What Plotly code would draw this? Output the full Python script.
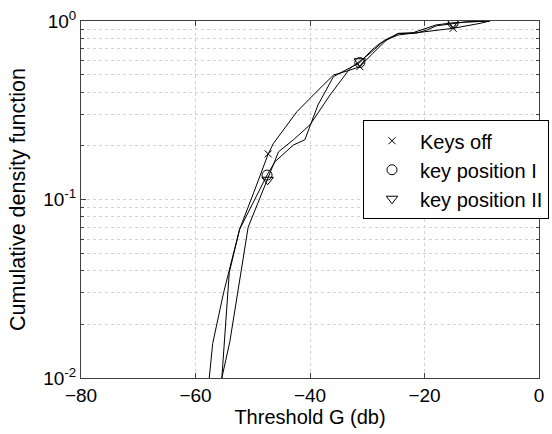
import plotly.graph_objects as go

# Threshold (dB) and cumulative density for each key configuration
keys_off_x = [-57.6, -57.0, -55.1, -52.3, -49.8, -47.3, -46.4, -42.3, -39.1, -35.9,
              -33.0, -31.3, -29.0, -26.5, -24.6, -20.8, -15.0, -10.3, -8.6]
keys_off_y = [0.010, 0.0156, 0.030, 0.068, 0.110, 0.180, 0.206, 0.310, 0.394, 0.498,
              0.531, 0.555, 0.660, 0.790, 0.835, 0.865, 0.910, 0.970, 1.0]
keys_off_marks = [5, 11, 16]

pos1_x = [-55.4, -54.1, -52.3, -47.5, -46.1, -42.9, -40.9, -40.0, -38.6, -35.9,
          -31.3, -29.2, -27.8, -26.0, -24.6, -21.4, -19.6, -17.9, -15.0, -12.6, -8.6]
pos1_y = [0.010, 0.039, 0.068, 0.137, 0.163, 0.202, 0.216, 0.256, 0.339, 0.488,
          0.585, 0.688, 0.750, 0.800, 0.853, 0.855, 0.890, 0.940, 0.972, 0.990, 1.0]
pos1_marks = [3, 10, 18]

pos2_x = [-55.4, -54.0, -50.8, -47.4, -45.5, -42.9, -40.0, -36.5, -33.0, -31.3,
          -29.5, -27.0, -25.5, -24.6, -22.0, -20.0, -18.0, -15.0, -12.0, -8.6]
pos2_y = [0.010, 0.016, 0.070, 0.129, 0.185, 0.216, 0.262, 0.385, 0.543, 0.595,
          0.660, 0.780, 0.820, 0.850, 0.860, 0.900, 0.950, 0.978, 0.990, 1.0]
pos2_marks = [3, 9, 17]

x_ticks = [-80, -60, -40, -20, 0]
y_ticks = [0.01, 0.1, 1]
y_tick_text = ["10<sup>-2</sup>", "10<sup>-1</sup>", "10<sup>0</sup>"]
y_minor = [m * d for d in (0.01, 0.1) for m in range(2, 10)]

series = [
    ("Keys off", keys_off_x, keys_off_y, keys_off_marks, "x-thin-open", 7),
    ("key position I", pos1_x, pos1_y, pos1_marks, "circle-open", 10),
    ("key position II", pos2_x, pos2_y, pos2_marks, "triangle-down-open", 10),
]

fig = go.Figure()
for name, xs, ys, marks, symbol, size in series:
    fig.add_trace(go.Scatter(
        x=xs, y=ys, mode="lines", showlegend=False,
        line=dict(color="black", width=1), hoverinfo="skip",
    ))
    fig.add_trace(go.Scatter(
        x=[xs[i] for i in marks], y=[ys[i] for i in marks], mode="markers",
        name=name,
        marker=dict(symbol=symbol, size=size, color="black",
                    line=dict(color="black", width=1)),
    ))

family = "Liberation Sans, Arial, sans-serif"
tick_font = dict(family=family, size=19, color="black")
xtitle_font = dict(family=family, size=20, color="black")
ytitle_font = dict(family=family, size=21.5, color="black")
legend_font = dict(family=family, size=20, color="black")
grid = "#d2d2d2"

axis_common = dict(
    showline=True, linecolor="#404040", linewidth=1, mirror="ticks",
    ticks="inside", ticklen=5, tickcolor="#404040",
    showgrid=True, gridcolor=grid, griddash="dot", gridwidth=1,
    zeroline=False, tickfont=tick_font,
)

fig.update_layout(
    width=552, height=434,
    margin=dict(l=81, r=13, t=21, b=56, autoexpand=False),
    paper_bgcolor="white", plot_bgcolor="white",
    font=tick_font,
    xaxis=dict(
        range=[-80, 0], tickmode="array", tickvals=x_ticks,
        title=dict(text="Threshold G (db)", font=xtitle_font, standoff=5),
        **axis_common,
    ),
    yaxis=dict(
        type="log", range=[-2, 0], tickmode="array",
        tickvals=y_ticks, ticktext=y_tick_text,
        title=dict(text="Cumulative density function", font=ytitle_font, standoff=11),
        minor=dict(tickmode="array", tickvals=y_minor, ticks="inside", ticklen=3,
                   tickcolor="#404040", showgrid=True, gridcolor=grid,
                   griddash="dot"),
        **axis_common,
    ),
    legend=dict(
        x=0.6157, y=0.722, xanchor="left", yanchor="top",
        bgcolor="white", bordercolor="black", borderwidth=1,
        font=legend_font, itemwidth=46,
    ),
)

fig.write_html("out.html")
